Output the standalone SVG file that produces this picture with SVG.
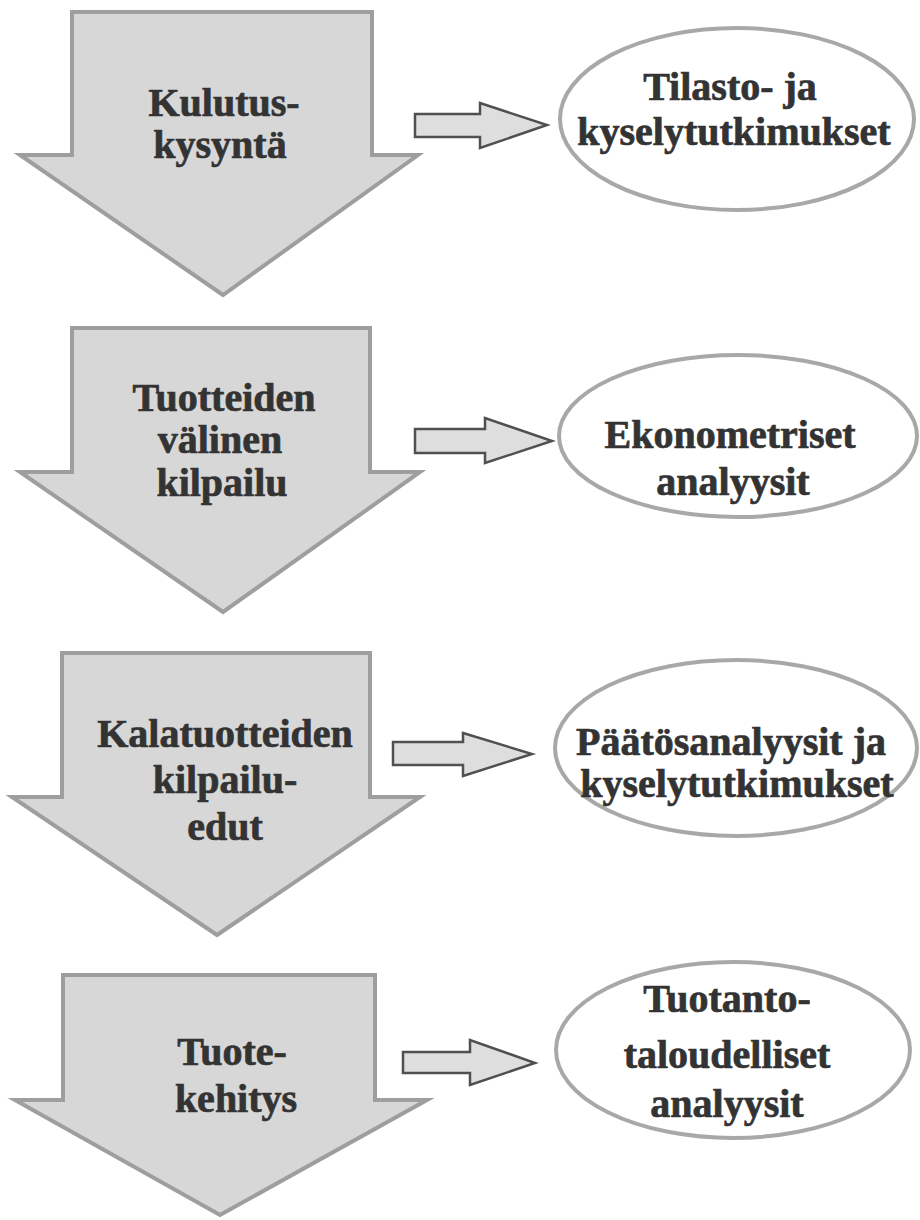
<svg xmlns="http://www.w3.org/2000/svg" width="920" height="1220" viewBox="0 0 920 1220">
  <defs>
    <style>
      .big { fill: #d7d7d7; stroke: #9e9e9e; stroke-width: 4; stroke-linejoin: miter; }
      .oval { fill: #ffffff; stroke: #a8a8a8; stroke-width: 4; }
      .small { fill: #dedede; stroke: #505050; stroke-width: 2.5; stroke-linejoin: miter; }
      .t { font-family: "Liberation Serif", "Times New Roman", serif; font-weight: bold; font-size: 40px; fill: #333333; stroke: #333333; stroke-width: 0.7; text-anchor: middle; }
    </style>
  </defs>
  <rect width="920" height="1220" fill="#ffffff"/>

  <g id="step1">
    <polygon class="big" points="72,12 372,12 372,155 418,155 223,295 20,155 72,155"/>
    <text class="t" x="224" y="116">Kulutus-</text>
    <text class="t" x="220" y="158">kysyntä</text>
  </g>
  <g id="step2">
    <polygon class="big" points="72,328 370,328 370,472 420,472 223,612 20,472 72,472"/>
    <text class="t" x="224" y="411">Tuotteiden</text>
    <text class="t" x="220" y="453">välinen</text>
    <text class="t" x="222" y="496">kilpailu</text>
  </g>
  <g id="step3">
    <polygon class="big" points="62,653 370,653 370,797 420,797 217,935 12,797 62,797"/>
    <text class="t" x="225" y="747">Kalatuotteiden</text>
    <text class="t" x="225" y="793">kilpailu-</text>
    <text class="t" x="225" y="840">edut</text>
  </g>
  <g id="step4">
    <polygon class="big" points="63,975 375,975 375,1100 427,1100 220,1215 15,1100 63,1100"/>
    <text class="t" x="232" y="1065">Tuote-</text>
    <text class="t" x="236" y="1112">kehitys</text>
  </g>

  <g id="method1">
    <ellipse class="oval" cx="737" cy="119" rx="177" ry="91"/>
    <text class="t" x="730" y="100">Tilasto- ja</text>
    <text class="t" x="734" y="145">kyselytutkimukset</text>
  </g>
  <g id="method2">
    <ellipse class="oval" cx="738" cy="436" rx="179" ry="81"/>
    <text class="t" x="730" y="448">Ekonometriset</text>
    <text class="t" x="733" y="495">analyysit</text>
  </g>
  <g id="method3">
    <ellipse class="oval" cx="736" cy="748" rx="181" ry="88"/>
    <text class="t" x="731" y="755">Päätösanalyysit ja</text>
    <text class="t" x="737" y="797">kyselytutkimukset</text>
  </g>
  <g id="method4">
    <ellipse class="oval" cx="733" cy="1050" rx="177" ry="88"/>
    <text class="t" x="727" y="1012">Tuotanto-</text>
    <text class="t" x="727" y="1068">taloudelliset</text>
    <text class="t" x="727" y="1117">analyysit</text>
  </g>

  <g id="connectors">
    <polygon class="small" points="415,114 480,114 480,103 547,125 480,148 480,137 415,137"/>
    <polygon class="small" points="415,429 485,429 485,418 552,441 485,463 485,453 415,453"/>
    <polygon class="small" points="393,742 463,742 463,733 532,754 463,776 463,765 393,765"/>
    <polygon class="small" points="403,1052 470,1052 470,1040 535,1063 470,1085 470,1073 403,1073"/>
  </g>
</svg>
